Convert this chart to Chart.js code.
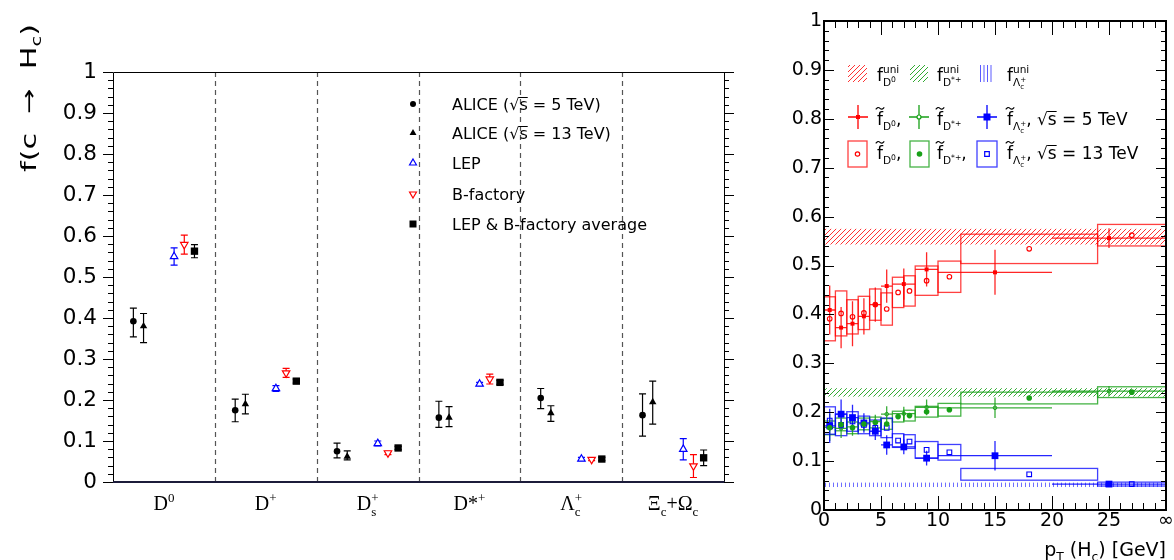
<!DOCTYPE html>
<html lang="pt-br">
<head>
<meta charset="utf-8">
<title>Frações de fragmentação do charm</title>
<script src="https://cdn.jsdelivr.net/npm/chart.js@4.4.1/dist/chart.umd.min.js"></script>
<style>
    body { margin: 0; background: #fff; }
    #painel { position: relative; width: 1174px; height: 560px; overflow: hidden; }
    #esquerdo { position: absolute; left: 0; top: 0; width: 760px; height: 560px; }
    #direito { position: absolute; left: 760px; top: 0; width: 414px; height: 560px; }
</style>
</head>
<body>
<div id="painel">
    <canvas id="esquerdo" width="760" height="560"></canvas>
    <canvas id="direito" width="414" height="560"></canvas>
</div>
<script>
// ---------- Painel esquerdo: f(c -> Hc) por espécie ----------
var categorias = ['D0', 'D+', 'Ds+', 'D*+', 'Λc+', 'Ξc+Ωc'];

var alice5 = [0.392, 0.175, 0.075, 0.157, 0.205, 0.163];
var alice5ErroSup = [0.032, 0.027, 0.020, 0.040, 0.023, 0.052];
var alice5ErroInf = [0.038, 0.028, 0.016, 0.024, 0.026, 0.051];

var alice13 = [0.380, 0.190, 0.062, 0.157, 0.168, 0.195];
var alice13ErroSup = [0.031, 0.024, 0.014, 0.027, 0.018, 0.051];
var alice13ErroInf = [0.040, 0.024, 0.008, 0.022, 0.020, 0.054];

var lep = [0.550, 0.228, 0.094, 0.239, 0.056, 0.080];
var lepErro = [0.021, 0.007, 0.006, 0.004, 0.004, 0.026];

var bFactory = [0.579, 0.266, 0.071, 0.251, 0.055, 0.039];
var bFactoryErro = [0.023, 0.011, 0.004, 0.012, 0.003, 0.028];

var media = [0.563, 0.246, 0.083, 0.243, 0.056, 0.059];
var mediaErro = [0.016, 0.005, 0.004, 0.005, 0.004, 0.019];

var rotulosYEsq = ['0', '0.1', '0.2', '0.3', '0.4', '0.5', '0.6', '0.7', '0.8', '0.9', '1'];

// ---------- Painel direito: em função de pT ----------
// sqrt(s) = 5 TeV (pontos com barras)
var pt5 = [0.5, 1.5, 2.5, 3.5, 4.5, 5.5, 7, 9, 15, 25];
var pt5Min = [0, 1, 2, 3, 4, 5, 6, 8, 10, 20];
var pt5Max = [1, 2, 3, 4, 5, 6, 8, 10, 20, 30];
var fD0_5 = [0.409, 0.373, 0.381, 0.396, 0.420, 0.458, 0.462, 0.492, 0.486, 0.556];
var fD0_5Erro = [0.050, 0.042, 0.046, 0.037, 0.035, 0.034, 0.032, 0.035, 0.046, 0.020];
var fDst_5 = [0.169, 0.167, 0.170, 0.176, 0.181, 0.196, 0.197, 0.210, 0.209, 0.243];
var fDst_5Erro = [0.028, 0.020, 0.018, 0.015, 0.014, 0.016, 0.014, 0.016, 0.021, 0.010];
var fLc_5 = [0.172, 0.196, 0.189, 0.178, 0.161, 0.133, 0.129, 0.106, 0.111, 0.053];
var fLc_5Erro = [0.035, 0.030, 0.026, 0.020, 0.018, 0.020, 0.015, 0.015, 0.030, 0.004];

// sqrt(s) = 13 TeV (pontos com caixas de sistemática)
var pt13 = [0.5, 1.5, 2.5, 3.5, 4.5, 5.5, 6.5, 7.5, 9, 11, 18, 27];
var pt13Min = [0, 1, 2, 3, 4, 5, 6, 7, 8, 10, 12, 24];
var pt13Max = [1, 2, 3, 4, 5, 6, 7, 8, 10, 12, 24, 30];
var fD0_13 = [0.391, 0.402, 0.395, 0.403, 0.420, 0.411, 0.445, 0.448, 0.469, 0.477, 0.534, 0.562];
var fD0_13Sist = [0.045, 0.046, 0.035, 0.034, 0.032, 0.033, 0.031, 0.031, 0.030, 0.032, 0.030, 0.022];
var fDst_13 = [0.168, 0.175, 0.168, 0.176, 0.179, 0.176, 0.191, 0.193, 0.201, 0.205, 0.229, 0.241];
var fDst_13Sist = [0.014, 0.013, 0.012, 0.012, 0.011, 0.011, 0.011, 0.011, 0.011, 0.013, 0.012, 0.011];
var fLc_13 = [0.183, 0.174, 0.181, 0.174, 0.168, 0.168, 0.142, 0.140, 0.123, 0.118, 0.073, 0.053];
var fLc_13Sist = [0.028, 0.022, 0.020, 0.018, 0.016, 0.020, 0.014, 0.014, 0.017, 0.016, 0.012, 0.004];

// faixas "uni" (mínimo, máximo)
var faixaD0 = [0.543, 0.575];
var faixaDst = [0.232, 0.249];
var faixaLc = [0.047, 0.056];

var rotulosXDir = ['0', '5', '10', '15', '20', '25', '∞'];
var rotulosYDir = ['0', '0.1', '0.2', '0.3', '0.4', '0.5', '0.6', '0.7', '0.8', '0.9', '1'];

var SANS = '"DejaVu Sans", sans-serif';
var SERIFA = '"Liberation Serif", serif';
var VERMELHO = '#ff0000', VERDE = '#18a018', AZUL = '#0000ff';

// ---------- utilidades de texto com índices ----------
function posicoesRicas(ctx, partes, tam, familia) {
    var x = 0, inicios = [], lista = [];
    partes.forEach(function (p, i) {
        var s = tam * (p.s || 1);
        ctx.font = s + 'px ' + familia;
        var w = ctx.measureText(p.t).width;
        var px = p.back ? inicios[i - p.back] : x;
        inicios.push(px);
        lista.push({ p: p, x: px, w: w, s: s });
        x = Math.max(x, px + w);
    });
    return { itens: lista, largura: x };
}

function textoRico(ctx, partes, x0, y0, tam, familia, alinhar, cor) {
    var r = posicoesRicas(ctx, partes, tam, familia);
    var dx = alinhar === 'center' ? -r.largura / 2 : (alinhar === 'right' ? -r.largura : 0);
    cor = cor || '#000';
    ctx.fillStyle = cor;
    ctx.textAlign = 'left';
    ctx.textBaseline = 'alphabetic';
    r.itens.forEach(function (it) {
        var x = x0 + dx + it.x, y = y0 + (it.p.dy || 0) * tam;
        ctx.font = it.s + 'px ' + familia;
        ctx.fillText(it.p.t, x, y);
        if (it.p.til) {
            var tw = Math.max(it.w + 1, 0.5 * it.s), ty = y - 0.98 * it.s, a = x + it.w / 2 - tw / 2;
            ctx.save();
            ctx.strokeStyle = cor; ctx.lineWidth = 1.1;
            ctx.beginPath();
            ctx.moveTo(a, ty + 1);
            ctx.quadraticCurveTo(a + tw / 4, ty - 2, a + tw / 2, ty);
            ctx.quadraticCurveTo(a + 3 * tw / 4, ty + 2, a + tw, ty - 1);
            ctx.stroke();
            ctx.restore();
        }
        if (it.p.barra) {
            var asc = ctx.measureText('√').actualBoundingBoxAscent;
            ctx.save();
            ctx.strokeStyle = cor; ctx.lineWidth = 1;
            ctx.beginPath();
            ctx.moveTo(x - 0.5, y - asc + 0.5);
            ctx.lineTo(x + it.w, y - asc + 0.5);
            ctx.stroke();
            ctx.restore();
        }
    });
    return r.largura;
}

function marca(ctx, tipo, x, y, r, cor, aberto) {
    ctx.beginPath();
    if (tipo === 'circulo') ctx.arc(x, y, r, 0, 2 * Math.PI);
    else if (tipo === 'triangulo') { ctx.moveTo(x, y - r); ctx.lineTo(x + r * 0.866, y + r * 0.5); ctx.lineTo(x - r * 0.866, y + r * 0.5); ctx.closePath(); }
    else if (tipo === 'invertido') { ctx.moveTo(x, y + r); ctx.lineTo(x + r * 0.866, y - r * 0.5); ctx.lineTo(x - r * 0.866, y - r * 0.5); ctx.closePath(); }
    else if (tipo === 'quadrado') ctx.rect(x - r, y - r, 2 * r, 2 * r);
    if (aberto) { ctx.strokeStyle = cor; ctx.lineWidth = 1.2; ctx.stroke(); }
    else { ctx.fillStyle = cor; ctx.fill(); }
}

function hachura(ctx, cor, tipo) {
    var c = document.createElement('canvas');
    var d = tipo === 'v' ? 4 : 5;
    c.width = d; c.height = d;
    var g = c.getContext('2d');
    g.strokeStyle = cor; g.lineWidth = 1;
    g.beginPath();
    if (tipo === 'v') { g.moveTo(1.5, 0); g.lineTo(1.5, d); }
    else {
        g.moveTo(0, d); g.lineTo(d, 0);
        g.moveTo(-1, 1); g.lineTo(1, -1);
        g.moveTo(d - 1, d + 1); g.lineTo(d + 1, d - 1);
    }
    g.stroke();
    return ctx.createPattern(c, 'repeat');
}

// rótulos das categorias (com sub e sobrescritos)
var rotulosCategorias = {
    'D0': [{ t: 'D' }, { t: '0', s: 0.65, dy: -0.42 }],
    'D+': [{ t: 'D' }, { t: '+', s: 0.65, dy: -0.42 }],
    'Ds+': [{ t: 'D' }, { t: 's', s: 0.65, dy: 0.28 }, { t: '+', s: 0.65, dy: -0.42, back: 1 }],
    'D*+': [{ t: 'D*' }, { t: '+', s: 0.65, dy: -0.42 }],
    'Λc+': [{ t: 'Λ' }, { t: 'c', s: 0.65, dy: 0.28 }, { t: '+', s: 0.65, dy: -0.42, back: 1 }],
    'Ξc+Ωc': [{ t: 'Ξ' }, { t: 'c', s: 0.65, dy: 0.28 }, { t: '+Ω' }, { t: 'c', s: 0.65, dy: 0.28 }]
};

function raizS(energia) {
    return [{ t: '√' }, { t: 's', barra: true }, { t: ' = ' + energia }];
}

var legendaEsq = [
    { tipo: 'circulo', r: 3, cor: '#000', aberto: false, partes: [{ t: 'ALICE (' }].concat(raizS('5 TeV)')) },
    { tipo: 'triangulo', r: 4, cor: '#000', aberto: false, partes: [{ t: 'ALICE (' }].concat(raizS('13 TeV)')) },
    { tipo: 'triangulo', r: 4, cor: AZUL, aberto: true, partes: [{ t: 'LEP' }] },
    { tipo: 'invertido', r: 4, cor: VERMELHO, aberto: true, partes: [{ t: 'B-factory' }] },
    { tipo: 'quadrado', r: 3.5, cor: '#000', aberto: false, partes: [{ t: 'LEP & B-factory average' }] }
];
var legendaEsqY = [104, 133, 163, 194, 224];

function pontos(valores, desloc) {
    return valores.map(function (v, i) { return { x: i + desloc, y: v }; });
}

// ---------- Plugin do painel esquerdo ----------
var pluginEsquerdo = {
    id: 'painelEsquerdo',
    beforeDatasetsDraw: function (chart) {
        var ctx = chart.ctx, a = chart.chartArea;
        var xs = chart.scales.x, ys = chart.scales.y;
        ctx.save();
        // linhas tracejadas entre as categorias
        ctx.strokeStyle = '#555'; ctx.lineWidth = 1.2; ctx.setLineDash([5, 4]);
        for (var i = 0; i < categorias.length - 1; i++) {
            var xb = Math.round(xs.getPixelForValue(i + 0.5)) + 0.5;
            ctx.beginPath(); ctx.moveTo(xb, a.top); ctx.lineTo(xb, a.bottom); ctx.stroke();
        }
        ctx.setLineDash([]);
        // barras de erro
        chart.data.datasets.forEach(function (ds, k) {
            var meta = chart.getDatasetMeta(k);
            ctx.strokeStyle = ds.corErro; ctx.lineWidth = 1.2;
            meta.data.forEach(function (pt, j) {
                var yc = ds.data[j].y;
                var y1 = ys.getPixelForValue(yc + ds.erroSup[j]);
                var y2 = ys.getPixelForValue(yc - ds.erroInf[j]);
                ctx.beginPath();
                ctx.moveTo(pt.x, y1); ctx.lineTo(pt.x, y2);
                ctx.moveTo(pt.x - 3.5, y1); ctx.lineTo(pt.x + 3.5, y1);
                ctx.moveTo(pt.x - 3.5, y2); ctx.lineTo(pt.x + 3.5, y2);
                ctx.stroke();
            });
        });
        ctx.restore();
    },
    afterDraw: function (chart) {
        var ctx = chart.ctx, a = chart.chartArea;
        var xs = chart.scales.x, ys = chart.scales.y;
        ctx.save();
        // moldura
        ctx.strokeStyle = '#000'; ctx.lineWidth = 1;
        ctx.beginPath();
        ctx.moveTo(a.left + 0.5, a.bottom); ctx.lineTo(a.left + 0.5, a.top + 0.5);
        ctx.lineTo(a.right + 0.5, a.top + 0.5); ctx.lineTo(a.right + 0.5, a.bottom);
        ctx.stroke();
        ctx.strokeStyle = '#1c1c3a'; ctx.lineWidth = 2;
        ctx.beginPath(); ctx.moveTo(a.left, a.bottom); ctx.lineTo(a.right + 1, a.bottom); ctx.stroke();
        // marcas do eixo y (para fora, dos dois lados)
        ctx.strokeStyle = '#000'; ctx.lineWidth = 1;
        ctx.beginPath();
        for (var k = 0; k <= 50; k++) {
            var py = Math.round(ys.getPixelForValue(k * 0.02)) + 0.5;
            var len = k % 5 === 0 ? 10 : 5;
            ctx.moveTo(a.left, py); ctx.lineTo(a.left - len, py);
            ctx.moveTo(a.right, py); ctx.lineTo(a.right + len, py);
        }
        ctx.stroke();
        // rótulos das categorias
        categorias.forEach(function (c, i) {
            textoRico(ctx, rotulosCategorias[c], xs.getPixelForValue(i), 510, 20, SERIFA, 'center');
        });
        // legenda
        legendaEsq.forEach(function (item, i) {
            var y = legendaEsqY[i];
            marca(ctx, item.tipo, 413, y, item.r, item.cor, item.aberto);
            textoRico(ctx, item.partes, 452, y + 6, 16, SANS, 'left');
        });
        // título do eixo y
        ctx.save();
        ctx.translate(36, 172);
        ctx.rotate(-Math.PI / 2);
        var titulo = [{ t: 'f(c  →  H' }, { t: 'c', s: 0.65, dy: 0.25 }, { t: ')' }];
        var w = posicoesRicas(ctx, titulo, 21, SANS).largura;
        ctx.scale(148 / w, 1);
        textoRico(ctx, titulo, 0, 0, 21, SANS, 'left');
        ctx.restore();
        ctx.restore();
    }
};

var ctxEsq = document.getElementById('esquerdo').getContext('2d');
var graficoEsquerdo = new Chart(ctxEsq, {
    type: 'scatter',
    data: {
        datasets: [{
            label: 'ALICE 5 TeV',
            data: pontos(alice5, -0.3),
            pointStyle: 'circle', pointRadius: 3.3,
            backgroundColor: '#000', borderColor: '#000', borderWidth: 0,
            erroSup: alice5ErroSup, erroInf: alice5ErroInf, corErro: '#000'
        }, {
            label: 'ALICE 13 TeV',
            data: pontos(alice13, -0.2),
            pointStyle: 'triangle', pointRadius: 4.3,
            backgroundColor: '#000', borderColor: '#000', borderWidth: 0,
            erroSup: alice13ErroSup, erroInf: alice13ErroInf, corErro: '#000'
        }, {
            label: 'LEP',
            data: pontos(lep, 0.1),
            pointStyle: 'triangle', pointRadius: 4.3,
            backgroundColor: '#fff', borderColor: AZUL, borderWidth: 1.2,
            erroSup: lepErro, erroInf: lepErro, corErro: AZUL
        }, {
            label: 'B-factory',
            data: pontos(bFactory, 0.2),
            pointStyle: 'triangle', pointRotation: 180, pointRadius: 4.3,
            backgroundColor: '#fff', borderColor: VERMELHO, borderWidth: 1.2,
            erroSup: bFactoryErro, erroInf: bFactoryErro, corErro: VERMELHO
        }, {
            label: 'LEP & B-factory average',
            data: pontos(media, 0.3),
            pointStyle: 'rect', pointRadius: 5.2,
            backgroundColor: '#000', borderColor: '#000', borderWidth: 0,
            erroSup: mediaErro, erroInf: mediaErro, corErro: '#000'
        }]
    },
    options: {
        responsive: false,
        animation: false,
        layout: { padding: { left: 0, top: 72, right: 36, bottom: 0 } },
        plugins: { legend: { display: false }, tooltip: { enabled: false } },
        scales: {
            x: {
                type: 'linear', min: -0.5, max: 5.5,
                grid: { display: false, drawTicks: false }, border: { display: false },
                ticks: { display: false },
                afterFit: function (s) { s.height = 78; }
            },
            y: {
                type: 'linear', min: 0, max: 1,
                grid: { display: false, drawTicks: false }, border: { display: false },
                ticks: {
                    stepSize: 0.1, padding: 16, color: '#000',
                    font: { family: SANS, size: 21.5 },
                    callback: function (v, i) { return rotulosYEsq[i]; }
                },
                afterFit: function (s) { s.width = 113; }
            }
        }
    },
    plugins: [pluginEsquerdo]
});

// ---------- Plugin do painel direito ----------
var pluginDireito = {
    id: 'painelDireito',
    beforeDatasetsDraw: function (chart) {
        var ctx = chart.ctx, a = chart.chartArea;
        var xs = chart.scales.x, ys = chart.scales.y;
        ctx.save();
        ctx.beginPath(); ctx.rect(a.left, a.top, a.right - a.left, a.bottom - a.top); ctx.clip();
        // faixas hachuradas
        [[faixaD0, hachura(ctx, 'rgba(255,0,0,0.8)', 'd')],
         [faixaDst, hachura(ctx, 'rgba(0,150,0,0.8)', 'd')],
         [faixaLc, hachura(ctx, 'rgba(50,50,255,0.7)', 'v')]].forEach(function (f) {
            var y1 = ys.getPixelForValue(f[0][1]), y2 = ys.getPixelForValue(f[0][0]);
            ctx.fillStyle = f[1];
            ctx.fillRect(xs.getPixelForValue(0), y1, xs.getPixelForValue(30) - xs.getPixelForValue(0), y2 - y1);
        });
        chart.data.datasets.forEach(function (ds, k) {
            var meta = chart.getDatasetMeta(k);
            meta.data.forEach(function (pt, j) {
                var v = ds.data[j].y;
                var x1 = xs.getPixelForValue(ds.xMin[j]), x2 = xs.getPixelForValue(ds.xMax[j]);
                if (ds.sist) {
                    // caixas de incerteza sistemática
                    var yA = ys.getPixelForValue(v + ds.sist[j]), yB = ys.getPixelForValue(v - ds.sist[j]);
                    ctx.strokeStyle = ds.corLinha; ctx.lineWidth = 1.3;
                    ctx.strokeRect(x1, yA, x2 - x1, yB - yA);
                } else {
                    // barras de erro em cruz
                    ctx.strokeStyle = ds.corLinha; ctx.lineWidth = 1.3;
                    ctx.beginPath();
                    ctx.moveTo(x1, pt.y); ctx.lineTo(x2, pt.y);
                    ctx.moveTo(pt.x, ys.getPixelForValue(v + ds.erro[j]));
                    ctx.lineTo(pt.x, ys.getPixelForValue(v - ds.erro[j]));
                    ctx.stroke();
                }
            });
        });
        ctx.restore();
    },
    afterDraw: function (chart) {
        var ctx = chart.ctx, a = chart.chartArea;
        var xs = chart.scales.x, ys = chart.scales.y;
        ctx.save();
        // marcas para dentro
        ctx.strokeStyle = '#000'; ctx.lineWidth = 1;
        ctx.beginPath();
        for (var v = 0; v <= 30; v++) {
            var px = Math.round(xs.getPixelForValue(v)) + 0.5;
            var len = v % 5 === 0 ? 14 : 7;
            ctx.moveTo(px, a.bottom); ctx.lineTo(px, a.bottom - len);
            ctx.moveTo(px, a.top); ctx.lineTo(px, a.top + len);
        }
        for (var k = 0; k <= 50; k++) {
            var py = Math.round(ys.getPixelForValue(k * 0.02)) + 0.5;
            var l2 = k % 5 === 0 ? 10 : 5;
            ctx.moveTo(a.left, py); ctx.lineTo(a.left + l2, py);
            ctx.moveTo(a.right, py); ctx.lineTo(a.right - l2, py);
        }
        ctx.stroke();
        ctx.lineWidth = 2;
        ctx.strokeRect(a.left, a.top, a.right - a.left, a.bottom - a.top);

        // legenda
        var T = 17;
        var subD0 = [{ t: 'D', s: 0.62, dy: 0.3 }, { t: '0', s: 0.45, dy: 0.08 }];
        var subDst = [{ t: 'D', s: 0.62, dy: 0.3 }, { t: '*+', s: 0.45, dy: 0.08 }];
        var subLc = [{ t: 'Λ', s: 0.62, dy: 0.3 }, { t: 'c', s: 0.42, dy: 0.45 }, { t: '+', s: 0.42, dy: 0.08, back: 1 }];
        var uni = function (n) { return { t: 'uni', s: 0.62, dy: -0.45, back: n }; };

        // linha 1: faixas uni
        ctx.fillStyle = hachura(ctx, 'rgba(255,0,0,0.8)', 'd'); ctx.fillRect(88, 65, 19, 17);
        ctx.fillStyle = hachura(ctx, 'rgba(0,150,0,0.8)', 'd'); ctx.fillRect(150, 65, 18, 17);
        ctx.strokeStyle = 'rgba(50,50,255,0.8)'; ctx.lineWidth = 1;
        ctx.beginPath();
        [220.5, 224, 227.5, 231].forEach(function (lx) { ctx.moveTo(lx, 65); ctx.lineTo(lx, 82); });
        ctx.stroke();
        textoRico(ctx, [{ t: 'f' }].concat(subD0, [uni(2)]), 117, 81, T, SANS, 'left');
        textoRico(ctx, [{ t: 'f' }].concat(subDst, [uni(2)]), 177, 81, T, SANS, 'left');
        textoRico(ctx, [{ t: 'f' }].concat(subLc, [uni(3)]), 247, 81, T, SANS, 'left');

        // linha 2: 5 TeV
        var cruz = function (x, y, cor) {
            ctx.strokeStyle = cor; ctx.lineWidth = 1.3;
            ctx.beginPath();
            ctx.moveTo(x - 10, y); ctx.lineTo(x + 10, y);
            ctx.moveTo(x, y - 12); ctx.lineTo(x, y + 12);
            ctx.stroke();
        };
        cruz(98, 117, VERMELHO); marca(ctx, 'quadrado', 98, 117, 2, VERMELHO, false);
        cruz(159, 117, VERDE); ctx.fillStyle = '#fff'; ctx.beginPath(); ctx.arc(159, 117, 2, 0, 7); ctx.fill();
        marca(ctx, 'circulo', 159, 117, 2, VERDE, true);
        cruz(227, 117, AZUL); marca(ctx, 'quadrado', 227, 117, 3.5, AZUL, false);
        textoRico(ctx, [{ t: 'f', til: true }].concat(subD0, [{ t: ',' }]), 117, 125, T, SANS, 'left');
        textoRico(ctx, [{ t: 'f', til: true }].concat(subDst), 177, 125, T, SANS, 'left');
        textoRico(ctx, [{ t: 'f', til: true }].concat(subLc, [{ t: ', ' }], raizS('5 TeV')), 247, 125, T, SANS, 'left');

        // linha 3: 13 TeV
        ctx.lineWidth = 1.3;
        ctx.strokeStyle = 'rgba(255,0,0,0.75)'; ctx.strokeRect(88, 141, 19, 26);
        ctx.strokeStyle = 'rgba(24,160,24,0.8)'; ctx.strokeRect(150, 141, 19, 26);
        ctx.strokeStyle = 'rgba(0,0,255,0.75)'; ctx.strokeRect(217, 141, 20, 26);
        marca(ctx, 'circulo', 97.5, 154, 2.2, VERMELHO, true);
        marca(ctx, 'circulo', 159.5, 154, 2.8, VERDE, false);
        marca(ctx, 'quadrado', 227, 154, 2.3, AZUL, true);
        textoRico(ctx, [{ t: 'f', til: true }].concat(subD0, [{ t: ',' }]), 117, 159, T, SANS, 'left');
        textoRico(ctx, [{ t: 'f', til: true }].concat(subDst, [{ t: ',' }]), 177, 159, T, SANS, 'left');
        textoRico(ctx, [{ t: 'f', til: true }].concat(subLc, [{ t: ', ' }], raizS('13 TeV')), 247, 159, T, SANS, 'left');

        // título do eixo x
        textoRico(ctx, [{ t: 'p' }, { t: 'T', s: 0.65, dy: 0.25 }, { t: ' (H' }, { t: 'c', s: 0.65, dy: 0.25 }, { t: ') [GeV]' }],
            a.right, 556, 19, SANS, 'right');
        ctx.restore();
    }
};

function serie(xv, yv) {
    return yv.map(function (v, i) { return { x: xv[i], y: v }; });
}

var ctxDir = document.getElementById('direito').getContext('2d');
var graficoDireito = new Chart(ctxDir, {
    type: 'scatter',
    data: {
        datasets: [{
            label: 'D0 13 TeV', data: serie(pt13, fD0_13), xMin: pt13Min, xMax: pt13Max, sist: fD0_13Sist,
            corLinha: 'rgba(255,0,0,0.75)',
            pointStyle: 'circle', pointRadius: 2.3, backgroundColor: 'rgba(0,0,0,0)', borderColor: VERMELHO, borderWidth: 1.1
        }, {
            label: 'D*+ 13 TeV', data: serie(pt13, fDst_13), xMin: pt13Min, xMax: pt13Max, sist: fDst_13Sist,
            corLinha: 'rgba(24,160,24,0.8)',
            pointStyle: 'circle', pointRadius: 2.8, backgroundColor: VERDE, borderColor: VERDE, borderWidth: 0
        }, {
            label: 'Lc+ 13 TeV', data: serie(pt13, fLc_13), xMin: pt13Min, xMax: pt13Max, sist: fLc_13Sist,
            corLinha: 'rgba(0,0,255,0.75)',
            pointStyle: 'rect', pointRadius: 3.3, backgroundColor: 'rgba(0,0,0,0)', borderColor: AZUL, borderWidth: 1.1
        }, {
            label: 'D0 5 TeV', data: serie(pt5, fD0_5), xMin: pt5Min, xMax: pt5Max, erro: fD0_5Erro,
            corLinha: 'rgba(255,0,0,0.85)',
            pointStyle: 'rect', pointRadius: 2.8, backgroundColor: VERMELHO, borderColor: VERMELHO, borderWidth: 0
        }, {
            label: 'D*+ 5 TeV', data: serie(pt5, fDst_5), xMin: pt5Min, xMax: pt5Max, erro: fDst_5Erro,
            corLinha: 'rgba(24,160,24,0.85)',
            pointStyle: 'circle', pointRadius: 1.8, backgroundColor: 'rgba(0,0,0,0)', borderColor: VERDE, borderWidth: 1
        }, {
            label: 'Lc+ 5 TeV', data: serie(pt5, fLc_5), xMin: pt5Min, xMax: pt5Max, erro: fLc_5Erro,
            corLinha: 'rgba(0,0,255,0.85)',
            pointStyle: 'rect', pointRadius: 4.8, backgroundColor: AZUL, borderColor: AZUL, borderWidth: 0
        }]
    },
    options: {
        responsive: false,
        animation: false,
        layout: { padding: { left: 0, top: 21, right: 8, bottom: 0 } },
        plugins: { legend: { display: false }, tooltip: { enabled: false } },
        scales: {
            x: {
                type: 'linear', min: 0, max: 30,
                grid: { display: false, drawTicks: false }, border: { display: false },
                ticks: {
                    stepSize: 5, padding: 0, color: '#000', autoSkip: false, maxRotation: 0,
                    font: { family: SANS, size: 19 },
                    callback: function (v, i) { return rotulosXDir[i]; }
                },
                afterFit: function (s) { s.height = 50; }
            },
            y: {
                type: 'linear', min: 0, max: 1,
                grid: { display: false, drawTicks: false }, border: { display: false },
                ticks: {
                    stepSize: 0.1, padding: 2, color: '#000',
                    font: { family: SANS, size: 19 },
                    callback: function (v, i) { return rotulosYDir[i]; }
                },
                afterFit: function (s) { s.width = 64; }
            }
        }
    },
    plugins: [pluginDireito]
});
</script>
</body>
</html>
